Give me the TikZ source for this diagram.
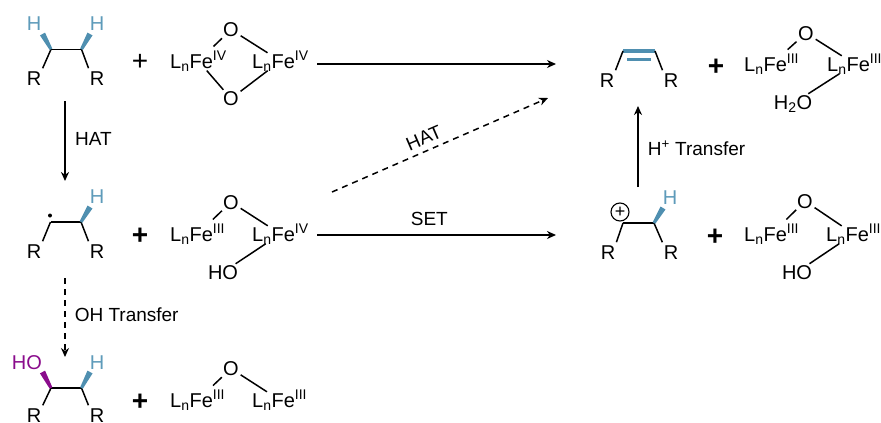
\documentclass[tikz,border=0pt]{standalone}
\usepackage{fontspec}
\usepackage{xcolor}
\setmainfont{Liberation Sans}
\usetikzlibrary{calc, arrows.meta}
\definecolor{bondblue}{HTML}{4F8FB0}
\definecolor{hydrogenblue}{HTML}{5E9BBA}
\definecolor{hydroxylpurple}{HTML}{8A0C8C}
\newcommand{\lnfe}[1]{L\textsubscript{n}Fe\textsuperscript{#1}}
\newcommand{\wedgebond}[3]{\fill[#1] ($(#2)!1.5pt!90:(#3)$) -- ($(#3)!2.9pt!-90:(#2)$) -- ($(#3)!2.9pt!90:(#2)$) -- ($(#2)!1.5pt!-90:(#3)$) -- cycle;}
\tikzset{
  atom/.style={inner sep=0pt, anchor=base, font=\fontsize{20}{24}\selectfont},
  featom/.style={inner sep=0pt, anchor=base west, font=\fontsize{20}{24}\selectfont},
  plussign/.style={inner sep=0pt, font=\fontsize{28}{30}\selectfont\bfseries},
  steplabel/.style={inner sep=0pt, font=\fontsize{19}{23}\selectfont},
  bond/.style={line width=1.5pt, shorten <=2pt},
  rbond/.style={line width=1.5pt, shorten >=3pt},
  myarrow/.style={-{Stealth[length=9pt, width=8pt]}, line width=1.6pt},
  dasharrow/.style={-{Stealth[length=9pt, width=8pt]}, line width=1.5pt, dash pattern=on 6pt off 5pt},
}
\begin{document}
\begin{tikzpicture}[x=1pt, y=-1pt]
  \useasboundingbox (0,0) rectangle (881,423);

  % top left alkane
  \coordinate (ca) at (51,49.3);
  \coordinate (cb) at (81.5,49.3);
  \coordinate (wa) at (42.5,34);
  \coordinate (wb) at (90,34);
  \node[atom, text=hydrogenblue] (ha) at (34,30) {H};
  \node[atom, text=hydrogenblue] (hb) at (97,30) {H};
  \node[atom] (ra) at (34,85) {R};
  \node[atom] (rb) at (97,85) {R};
  \draw[line width=1.5pt] (ca) -- (cb);
  \draw[rbond] (ca) -- (ra.north east);
  \draw[rbond] (cb) -- (rb.north west);
  \wedgebond{bondblue}{ca}{wa}
  \wedgebond{bondblue}{cb}{wb}
  \node[plussign, font=\fontsize{28}{30}\selectfont] (pa) at (140,62) {+};
  \node[featom] (fea) at (170,68) {\lnfe{IV}};
  \node[featom] (feb) at (252,68) {\lnfe{IV}};
  \node[atom] (oa) at (231,36.5) {O};
  \node[atom] (ob) at (231,105.5) {O};
  \draw[bond, shorten >=6pt] (oa) -- (fea);
  \draw[bond, shorten >=-4pt] (oa) -- (feb);
  \draw[bond, shorten >=-1pt] (ob) -- (fea);
  \draw[bond, shorten >=-1pt] (ob) -- (feb);

  % radical
  \coordinate (cc) at (50.5,222);
  \coordinate (cd) at (81,222);
  \coordinate (wd) at (90,207);
  \node[atom, text=hydrogenblue] (hd) at (97,203) {H};
  \node[atom] (rc) at (34,258) {R};
  \node[atom] (rd) at (97,258) {R};
  \draw[line width=1.5pt] (cc) -- (cd);
  \draw[rbond] (cc) -- (rc.north east);
  \draw[rbond] (cd) -- (rd.north west);
  \wedgebond{bondblue}{cd}{wd}
  \fill (50,215.5) circle (2pt);
  \node[plussign] (pb) at (140,236) {+};
  \node[featom] (fec) at (170,241) {\lnfe{III}};
  \node[featom] (fed) at (252,241) {\lnfe{IV}};
  \node[atom] (oc) at (231,209) {O};
  \node[atom] (hoa) at (223,279) {HO};
  \draw[bond, shorten >=6pt] (oc) -- (fec);
  \draw[bond, shorten >=-4pt] (oc) -- (fed);
  \draw[bond, shorten >=-1pt] (hoa) -- (fed);

  % alcohol
  \coordinate (ce) at (51,388);
  \coordinate (cf) at (81.5,388);
  \coordinate (we) at (42.5,372);
  \coordinate (wf) at (90,372);
  \node[atom, text=hydroxylpurple] (hob) at (27,369) {HO};
  \node[atom, text=hydrogenblue] (hf) at (97,369) {H};
  \node[atom] (re) at (34,422) {R};
  \node[atom] (rf) at (97,422) {R};
  \draw[line width=1.5pt] (ce) -- (cf);
  \draw[rbond] (ce) -- (re.north east);
  \draw[rbond] (cf) -- (rf.north west);
  \wedgebond{hydroxylpurple}{ce}{we}
  \wedgebond{bondblue}{cf}{wf}
  \node[plussign] (pc) at (140,402) {+};
  \node[featom] (fee) at (170,407) {\lnfe{III}};
  \node[featom] (fef) at (252,407) {\lnfe{III}};
  \node[atom] (od) at (231,375.5) {O};
  \draw[bond, shorten >=6pt] (od) -- (fee);
  \draw[bond, shorten >=-4pt] (od) -- (fef);

  % alkene
  \coordinate (cg) at (623,51);
  \coordinate (ch) at (655,51);
  \coordinate (ci) at (627,59);
  \coordinate (cj) at (651,59);
  \node[atom] (rg) at (607,87) {R};
  \node[atom] (rh) at (671,87) {R};
  \draw[line width=4pt, bondblue] (cg) -- (ch);
  \draw[line width=3pt, bondblue] (ci) -- (cj);
  \draw[rbond] (cg) -- (rg.north east);
  \draw[rbond] (ch) -- (rh.north west);
  \node[plussign] (pd) at (716,67) {+};
  \node[featom] (feg) at (744,71) {\lnfe{III}};
  \node[featom] (feh) at (827,71) {\lnfe{III}};
  \node[atom] (oe) at (806,40) {O};
  \node[atom] (hto) at (793,109) {H\textsubscript{2}O};
  \draw[bond, shorten >=6pt] (oe) -- (feg);
  \draw[bond, shorten >=-4pt] (oe) -- (feh);
  \draw[bond, shorten >=-1pt] (hto) -- (feh);

  % cation
  \coordinate (ck) at (623,223);
  \coordinate (cl) at (654,223);
  \coordinate (wl) at (663,208);
  \node[atom, text=hydrogenblue] (hl) at (670,204) {H};
  \node[atom] (rk) at (608,259) {R};
  \node[atom] (rl) at (671,259) {R};
  \draw[line width=1.5pt] (ck) -- (cl);
  \draw[rbond] (ck) -- (rk.north east);
  \draw[rbond] (cl) -- (rl.north west);
  \wedgebond{bondblue}{cl}{wl}
  \node[draw, circle, line width=1.1pt, minimum size=18pt, inner sep=0pt, font=\fontsize{18}{20}\selectfont] (chg) at (620,212) {+};
  \node[plussign] (pe) at (715,237) {+};
  \node[featom] (fek) at (744,241) {\lnfe{III}};
  \node[featom] (fel) at (826,241) {\lnfe{III}};
  \node[atom] (of) at (805,208) {O};
  \node[atom] (hoc) at (797,279) {HO};
  \draw[bond, shorten >=6pt] (of) -- (fek);
  \draw[bond, shorten >=-4pt] (of) -- (fel);
  \draw[bond, shorten >=-1pt] (hoc) -- (fel);

  % arrows
  \coordinate (aa) at (317,64);
  \coordinate (ab) at (556,64);
  \coordinate (ac) at (317,235);
  \coordinate (ad) at (556,235);
  \coordinate (ae) at (332,192);
  \coordinate (af) at (548,98);
  \coordinate (ag) at (65,101);
  \coordinate (ah) at (65,181);
  \coordinate (ai) at (65,278);
  \coordinate (aj) at (65,357);
  \coordinate (ak) at (638,187);
  \coordinate (al) at (638,106);
  \draw[myarrow] (aa) -- (ab);
  \draw[myarrow] (ac) -- node[steplabel, pos=0.47, yshift=16pt] {SET} (ad);
  \draw[dasharrow] (ae) -- node[steplabel, pos=0.425, yshift=14pt, rotate=23.4] {HAT} (af);
  \draw[myarrow, line width=2.2pt] (ag) -- node[steplabel, right=9pt, pos=0.475] {HAT} (ah);
  \draw[dasharrow] (ai) -- node[steplabel, right=9pt, pos=0.47] {OH Transfer} (aj);
  \draw[myarrow, line width=1.8pt] (ak) -- node[steplabel, right=9pt, pos=0.48] {H\textsuperscript{+} Transfer} (al);
\end{tikzpicture}
\end{document}
